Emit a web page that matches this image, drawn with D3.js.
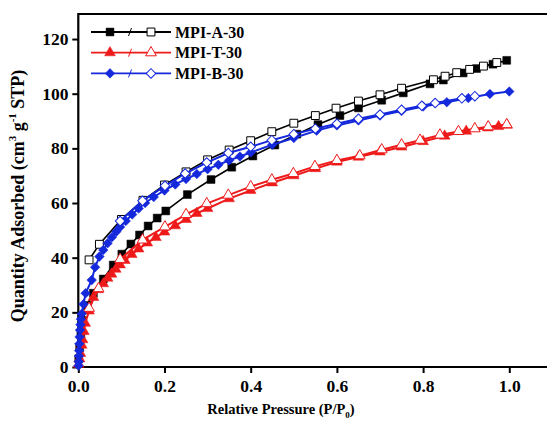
<!DOCTYPE html>
<html>
<head>
<meta charset="utf-8">
<script src="https://cdn.jsdelivr.net/npm/d3@7"></script>
<style>
	body { margin: 0; background: #fff; }
	svg { display: block; }
	text { font-family: "Liberation Serif", "Times New Roman", serif; font-weight: bold; }
</style>
</head>
<body>
<script>
// [P/P0, quantity adsorbed]
const mpiA30Ads = [[0.001,3],[0.003,7],[0.006,12],[0.01,17],[0.02,22.5],[0.035,27],[0.058,32.2],[0.081,37.3],[0.101,41.3],[0.122,45],[0.142,48.3],[0.162,51.6],[0.183,54.5],[0.203,57.1],[0.253,63.1],[0.308,68.6],[0.356,73.1],[0.405,77.2],[0.456,81.2],[0.507,85.2],[0.556,88.7],[0.607,92],[0.65,94.8],[0.704,97.6],[0.754,100.3],[0.816,103.6],[0.847,105],[0.893,107.6],[0.924,109.2],[0.962,110.8],[0.994,112.2]];
const mpiA30Des = [[0.971,111.4],[0.94,110.1],[0.908,108.9],[0.878,107.7],[0.851,106.4],[0.824,105.1],[0.75,102],[0.7,99.6],[0.65,97.3],[0.598,94.7],[0.55,92],[0.5,89.2],[0.449,86.1],[0.4,82.8],[0.35,79.4],[0.3,75.8],[0.25,71.4],[0.2,66.6],[0.15,61],[0.1,54],[0.049,44.9],[0.025,39.2]];

const mpiT30Ads = [[0.001,1],[0.003,3],[0.005,5],[0.008,8],[0.01,10],[0.013,13],[0.016,16],[0.025,20.5],[0.035,25.5],[0.046,28.3],[0.058,30.5],[0.068,32.5],[0.077,34],[0.087,35.8],[0.097,37.4],[0.108,39],[0.124,41.2],[0.14,43.2],[0.16,45.4],[0.18,47.4],[0.2,49.4],[0.225,51.7],[0.25,54],[0.275,56.2],[0.3,58],[0.35,61.6],[0.4,64.6],[0.45,67.4],[0.5,70],[0.55,72.6],[0.6,75],[0.65,76.8],[0.7,78.7],[0.75,80.5],[0.8,82.5],[0.85,84.5],[0.9,86.3],[0.95,87.5],[0.975,88],[0.995,88.5]];
const mpiT30Des = [[0.994,88.7],[0.951,87.9],[0.92,87.2],[0.882,86.2],[0.839,84.9],[0.793,83],[0.75,81.3],[0.704,79.5],[0.653,77.3],[0.6,75.6],[0.549,73.4],[0.499,70.8],[0.449,68.5],[0.4,66],[0.348,62.9],[0.298,59.8],[0.25,55.8],[0.201,51.3],[0.149,46.5],[0.097,39.4],[0.047,28.7],[0.025,21.5]];

const mpiB30Ads = [[0.0005,0.5],[0.001,2],[0.0015,4],[0.002,6],[0.0025,8.5],[0.003,11],[0.004,13.5],[0.005,15.5],[0.006,17.5],[0.008,19.5],[0.012,23],[0.017,27],[0.031,31.8],[0.039,36.5],[0.049,40.4],[0.058,42.8],[0.068,45.3],[0.078,47.5],[0.088,49.5],[0.097,51.2],[0.11,53.4],[0.125,55.8],[0.14,58],[0.155,60],[0.175,62.2],[0.2,64.6],[0.225,66.8],[0.25,68.8],[0.275,70.6],[0.3,72.4],[0.325,74],[0.35,75.6],[0.375,77],[0.4,78.5],[0.45,81.3],[0.5,83.8],[0.553,86.5],[0.6,88.4],[0.65,90.2],[0.7,92],[0.75,93.7],[0.8,95.3],[0.855,96.9],[0.905,98.4],[0.955,99.9],[1.0,100.8]];
const mpiB30Des = [[0.92,99.1],[0.89,98.3],[0.828,96.6],[0.797,95.6],[0.75,94.1],[0.7,92.4],[0.65,90.8],[0.6,89],[0.55,87.2],[0.5,85.2],[0.449,83],[0.4,80.6],[0.348,78.3],[0.298,74.8],[0.248,70.8],[0.201,66.3],[0.149,60.8],[0.097,53.4]];

const seriesNames = ['MPI-A-30', 'MPI-T-30', 'MPI-B-30'];
const xTicks = [0, 0.2, 0.4, 0.6, 0.8, 1.0];
const yTicks = [0, 20, 40, 60, 80, 100, 120];

const width = 547, height = 432;
const plotLeft = 78.3, plotBottom = 367, plotTop = 14;

const svg = d3.select('body').append('svg')
	.attr('width', width)
	.attr('height', height);

const x = d3.scaleLinear().domain([0, 1.1]).range([plotLeft, plotLeft + 431 * 1.1]);
const y = d3.scaleLinear().domain([0, 120]).range([plotBottom, plotBottom - 120 * 2.733]);

// axes, ticks pointing out
const xAxis = svg.append('g')
	.attr('transform', 'translate(0,' + plotBottom + ')');
xAxis.call(d3.axisBottom(x).tickValues(d3.range(0.1, 1.1, 0.2)).tickSize(3).tickFormat(''));
xAxis.call(d3.axisBottom(x).tickValues(xTicks).tickSize(6).tickFormat(d3.format('.1f')));

const yAxis = svg.append('g')
	.attr('transform', 'translate(' + plotLeft + ',0)');
yAxis.call(d3.axisLeft(y).tickValues(d3.range(10, 130, 20)).tickSize(3).tickFormat(''));
yAxis.call(d3.axisLeft(y).tickValues(yTicks).tickSize(6));

svg.selectAll('.domain').remove();
svg.selectAll('.tick line').attr('stroke', '#000').attr('stroke-width', 2);
svg.selectAll('.tick text')
	.attr('fill', '#000')
	.style('font-size', '17.5px')
	.style('font-family', '"Liberation Serif", serif')
	.style('font-weight', 'bold');
xAxis.selectAll('.tick text').attr('dy', '0.92em');
yAxis.selectAll('.tick text').attr('dx', '-0.05em');

// frame: left, bottom, top
svg.append('path')
	.attr('d', 'M' + (width + 5) + ',' + plotTop + 'H' + plotLeft + 'V' + plotBottom + 'H' + (width + 5))
	.attr('fill', 'none')
	.attr('stroke', '#000')
	.attr('stroke-width', 2.2);

const colors = ['#000000', '#ee1a1a', '#1428dc'];
const shapes = [d3.symbolSquare, d3.symbolTriangle, d3.symbolSquare];
const sizes = [62, 50, 46];
const rotate = [0, 0, 45];
const widths = [1.6, 2, 2];
const allSeries = [[mpiA30Ads, mpiA30Des], [mpiT30Ads, mpiT30Des], [mpiB30Ads, mpiB30Des]];

const line = d3.line()
	.x(function(d) { return x(d[0]); })
	.y(function(d) { return y(d[1]); });

allSeries.forEach(function(pair, i)
{
	pair.forEach(function(data, k)
	{
		const g = svg.append('g');
		g.append('path')
			.datum(data)
			.attr('fill', 'none')
			.attr('stroke', colors[i])
			.attr('stroke-width', widths[i])
			.attr('d', line);
		g.selectAll('path.pt')
			.data(data)
			.enter()
			.append('path')
				.attr('class', 'pt')
				.attr('d', d3.symbol().type(shapes[i]).size(sizes[i]))
				.attr('transform', function(d) { return 'translate(' + x(d[0]) + ',' + y(d[1]) + ') rotate(' + rotate[i] + ')'; })
				.attr('fill', k == 0 ? colors[i] : '#fff')
				.attr('stroke', colors[i])
				.attr('stroke-width', k == 0 ? 0.5 : 1);
	});
});

// legend
const legend = svg.append('g');
seriesNames.forEach(function(name, i)
{
	const ly = 32 + i * 20.7;
	legend.append('line')
		.attr('x1', 91).attr('x2', 171)
		.attr('y1', ly).attr('y2', ly)
		.attr('stroke', colors[i]).attr('stroke-width', 1.8);
	legend.append('line')
		.attr('x1', 128.5).attr('x2', 131.5)
		.attr('y1', ly + 4).attr('y2', ly - 4)
		.attr('stroke', colors[i]).attr('stroke-width', 1);
	[110, 151].forEach(function(mx, k)
	{
		legend.append('path')
			.attr('d', d3.symbol().type(shapes[i]).size(sizes[i])())
			.attr('transform', 'translate(' + mx + ',' + ly + ') rotate(' + rotate[i] + ')')
			.attr('fill', k == 0 ? colors[i] : '#fff')
			.attr('stroke', colors[i])
			.attr('stroke-width', k == 0 ? 0.5 : 1);
	});
	legend.append('text')
		.attr('x', 175)
		.attr('y', ly + 5.5)
		.style('font-size', '16px')
		.text(name);
});

// axis titles
const xTitle = svg.append('text')
	.attr('x', 281)
	.attr('y', 414)
	.attr('text-anchor', 'middle')
	.style('font-size', '14.5px');
xTitle.append('tspan').text('Relative Pressure (P/P');
xTitle.append('tspan').attr('dy', 4).style('font-size', '9px').text('0');
xTitle.append('tspan').attr('dy', -4).text(')');

const yTitle = svg.append('text')
	.attr('transform', 'translate(24,' + 196 + ') rotate(-90)')
	.attr('text-anchor', 'middle')
	.style('font-size', '18px');
yTitle.append('tspan').text('Quantity Adsorbed (cm');
yTitle.append('tspan').attr('dy', -8).style('font-size', '11px').text('3');
yTitle.append('tspan').attr('dy', 8).text(' g');
yTitle.append('tspan').attr('dy', -8).style('font-size', '11px').text('-1');
yTitle.append('tspan').attr('dy', 8).text(' STP)');
</script>
</body>
</html>
